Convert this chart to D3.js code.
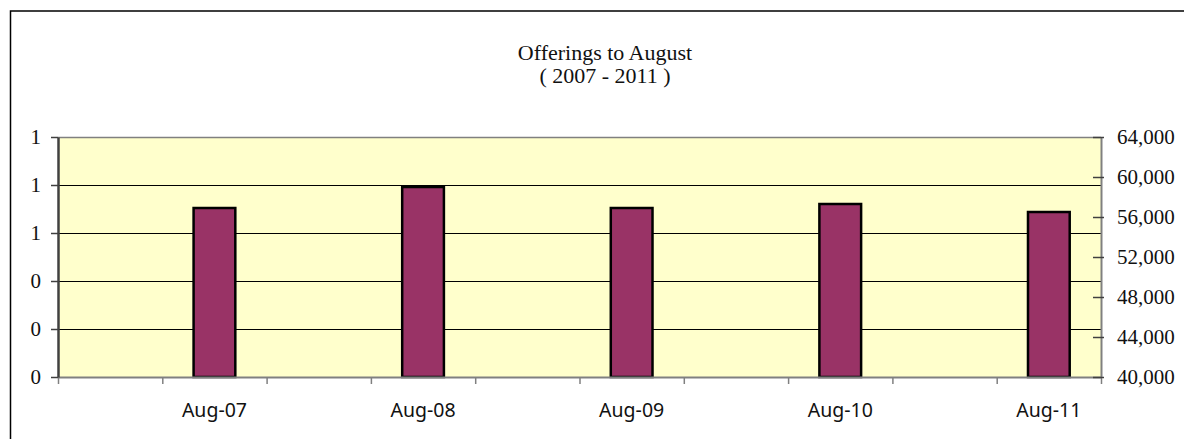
<!DOCTYPE html>
<html>
<head>
<meta charset="utf-8">
<script src="https://cdn.jsdelivr.net/npm/d3@7"></script>
<style>
  html, body { margin: 0; padding: 0; background: #fff; }
</style>
</head>
<body>
<div id="chart"></div>
<script>
const categories = ["Aug-07", "Aug-08", "Aug-09", "Aug-10", "Aug-11"];
const offerings = [56900, 59000, 56900, 57300, 56500];
const rightTicks = [40000, 44000, 48000, 52000, 56000, 60000, 64000];
const leftTicks = [0, 0.2, 0.4, 0.6, 0.8, 1.0];
const titleLines = ["Offerings to August", "( 2007 - 2011 )"];

const width = 1184, height = 439;
const plot = { left: 58, right: 1101, top: 137, bottom: 377 };

const svg = d3.select("#chart")
  .append("svg")
  .attr("width", width)
  .attr("height", height)
  .style("display", "block");

// outer frame (runs off the right and bottom edges)
svg.append("rect")
  .attr("x", 10.5)
  .attr("y", 11)
  .attr("width", width + 20)
  .attr("height", height + 20)
  .attr("fill", "#fff")
  .attr("stroke", "#000")
  .attr("stroke-width", 1.5);

const x = d3.scaleBand()
  .domain(categories)
  .range([plot.left, plot.right])
  .padding(0);

const slots = d3.scaleLinear()
  .domain([0, categories.length * 2])
  .range([plot.left, plot.right]);

const yLeft = d3.scaleLinear().domain([0, 1]).range([plot.bottom, plot.top]);
const yRight = d3.scaleLinear().domain([40000, 64000]).range([plot.bottom, plot.top]);

// plot background
svg.append("rect")
  .attr("x", plot.left)
  .attr("y", plot.top)
  .attr("width", plot.right - plot.left)
  .attr("height", plot.bottom - plot.top)
  .attr("fill", "#ffffcc");

// gridlines follow the left axis
svg.append("g")
  .selectAll("line")
  .data(leftTicks.slice(1, -1))
  .join("line")
  .attr("x1", plot.left)
  .attr("x2", plot.right)
  .attr("y1", d => Math.round(yLeft(d)) + 0.5)
  .attr("y2", d => Math.round(yLeft(d)) + 0.5)
  .attr("stroke", "#000")
  .attr("stroke-width", 1);

// top edge
svg.append("line")
  .attr("x1", plot.left)
  .attr("x2", plot.right)
  .attr("y1", plot.top + 0.5)
  .attr("y2", plot.top + 0.5)
  .attr("stroke", "#808080")
  .attr("stroke-width", 1.5);

// bars
const bw = x.bandwidth();
svg.append("g")
  .selectAll("rect")
  .data(categories)
  .join("rect")
  .attr("x", d => x(d) + bw * 0.75 - bw * 0.1)
  .attr("y", (d, i) => yRight(offerings[i]))
  .attr("width", bw * 0.2)
  .attr("height", (d, i) => plot.bottom - yRight(offerings[i]))
  .attr("fill", "#993366")
  .attr("stroke", "#000")
  .attr("stroke-width", 2.5);

// bottom axis
const xAxis = svg.append("g")
  .attr("transform", `translate(0,${plot.bottom})`)
  .call(d3.axisBottom(slots).ticks(categories.length * 2).tickFormat("").tickSizeInner(7).tickSizeOuter(0));
xAxis.select(".domain").attr("stroke", "#808080").attr("stroke-width", 2);
xAxis.selectAll(".tick line").attr("stroke", "#808080").attr("stroke-width", 1.5);

svg.append("g")
  .selectAll("text")
  .data(categories)
  .join("text")
  .attr("x", d => x(d) + bw * 0.75)
  .attr("y", 417)
  .attr("text-anchor", "middle")
  .style("font-family", "'Noto Sans', sans-serif")
  .style("font-size", "19.5px")
  .attr("fill", "#111")
  .text(d => d);

// left axis
const leftAxis = svg.append("g")
  .attr("transform", `translate(${plot.left},0)`)
  .call(d3.axisLeft(yLeft).tickValues(leftTicks).tickFormat(d3.format(".0f")).tickSizeInner(7).tickSizeOuter(0).tickPadding(10));
leftAxis.select(".domain").attr("stroke", "#404040").attr("stroke-width", 2.5);
leftAxis.selectAll(".tick line").attr("stroke", "#404040").attr("stroke-width", 1.5);
leftAxis.selectAll(".tick text")
  .style("font-family", "'Liberation Serif', serif")
  .style("font-size", "21px")
  .attr("fill", "#111");

// right axis, ticks cross the line
const rightAxis = svg.append("g")
  .attr("transform", `translate(${plot.right},0)`)
  .call(d3.axisRight(yRight).tickValues(rightTicks).tickFormat(d3.format(",")).tickSizeInner(3).tickSizeOuter(0).tickPadding(13));
rightAxis.select(".domain").attr("stroke", "#808080").attr("stroke-width", 2);
rightAxis.selectAll(".tick line").attr("x1", -8).attr("stroke", "#404040").attr("stroke-width", 1.5);
rightAxis.selectAll(".tick text")
  .style("font-family", "'Liberation Serif', serif")
  .style("font-size", "21px")
  .attr("fill", "#111");

// title
svg.append("g")
  .selectAll("text")
  .data(titleLines)
  .join("text")
  .attr("x", 605)
  .attr("y", (d, i) => 60 + i * 23)
  .attr("text-anchor", "middle")
  .style("font-family", "'Liberation Serif', serif")
  .style("font-size", "22px")
  .attr("fill", "#111")
  .text(d => d);
</script>
</body>
</html>
